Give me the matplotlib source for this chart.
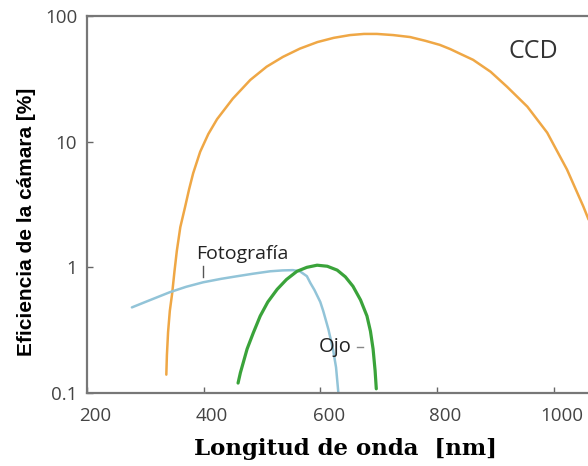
import numpy as np
import matplotlib.pyplot as plt
import matplotlib.transforms as mtransforms

# Datos (longitud de onda en nm, eficiencia en %)
ccd_nm = [336, 337, 339, 342, 346, 350, 354, 360, 368, 375, 382, 394, 408, 423,
          450, 480, 508, 536, 565, 595, 623, 651, 675, 697, 725, 754, 780, 805,
          823, 840, 862, 892, 920, 955, 989, 1023, 1051, 1060]
ccd_ef = [0.14, 0.2, 0.305, 0.45, 0.62, 0.93, 1.35, 2.09, 3.0, 4.17, 5.6, 8.3, 11.5, 15.1,
          22, 31, 39.5, 47.3, 55, 62, 67, 70.5, 72, 72, 70.5, 68, 63.5, 58.9,
          54.5, 50, 44.8, 36, 27.4, 19.0, 11.8, 6.0, 3.05, 2.4]

foto_nm = [277, 300, 342, 370, 399, 430, 457, 485, 514, 535, 553, 565, 577, 583,
           590, 600, 605, 614, 622, 627, 631]
foto_ef = [0.48, 0.53, 0.634, 0.70, 0.76, 0.81, 0.849, 0.89, 0.93, 0.945, 0.95, 0.93,
           0.85, 0.75, 0.66, 0.53, 0.45, 0.32, 0.22, 0.16, 0.1]

ojo_nm = [459, 463, 468, 474.5, 485, 497, 510, 526, 542, 560, 577, 594.5, 612, 629,
          643, 656, 669, 680, 686, 690.5, 694, 696]
ojo_ef = [0.12, 0.145, 0.175, 0.224, 0.30, 0.41, 0.53, 0.668, 0.80, 0.93, 1.0, 1.04,
          1.02, 0.95, 0.84, 0.707, 0.55, 0.41, 0.31, 0.224, 0.15, 0.108]

xticks = [200, 400, 600, 800, 1000]
yticks = [0.1, 1, 10, 100]
ytick_labels = ['0.1', '1', '10', '100']

fig = plt.figure(figsize=(5.88, 4.66), dpi=100)
ax = fig.add_axes([87 / 588, 73 / 466, 501 / 588, 377 / 466])

ax.plot(ccd_nm, ccd_ef, color='#EFA745', lw=1.8, solid_capstyle='round')
ax.plot(foto_nm, foto_ef, color='#92C4D8', lw=1.8, solid_capstyle='round')
ax.plot(ojo_nm, ojo_ef, color='#3AA33A', lw=2.3, solid_capstyle='round')

ax.set_yscale('log')
ax.set_xlim(200, 1059)
ax.set_ylim(0.1, 100)
ax.set_xticks(xticks)
ax.set_xticklabels([str(t) for t in xticks])
ax.set_yticks(yticks)
ax.set_yticklabels(ytick_labels)
ax.minorticks_off()

for s in ['left', 'bottom', 'top']:
    ax.spines[s].set_color('#777777')
    ax.spines[s].set_linewidth(1.6)
ax.spines['right'].set_visible(False)

ax.tick_params(direction='in', length=4, width=1, color='#666666',
               labelsize=13.5, labelcolor='#444444')
ax.tick_params(axis='x', pad=10)
ax.tick_params(axis='y', pad=7)
for lab in ax.get_xticklabels() + ax.get_yticklabels():
    lab.set_family('Open Sans')

# desplazar un poco las etiquetas del eje x
desp = mtransforms.ScaledTranslation(6 / 72, 0, fig.dpi_scale_trans)
for lab in ax.get_xticklabels():
    lab.set_transform(lab.get_transform() + desp)

ax.set_xlabel('Longitud de onda  [nm]', family='DejaVu Serif', weight='bold',
              fontsize=16.5, va='center')
ax.xaxis.set_label_coords(0.515, -0.149)
ax.set_ylabel('Eficiencia de la cámara [%]', family='Liberation Sans', weight='bold',
              fontsize=15, va='center')
ax.yaxis.set_label_coords(-0.12, 0.454)

# Etiquetas de las curvas
ax.text(466, 1.27, 'Fotografía', family='Open Sans', fontsize=14, color='#222222',
        ha='center', va='center')
ax.plot([399, 399], [0.84, 1.02], color='#555555', lw=1)
ax.text(625, 0.232, 'Ojo', family='Open Sans', fontsize=14.5, color='#222222',
        ha='center', va='center')
ax.plot([663, 673], [0.232, 0.232], color='#888888', lw=1)
ax.text(965, 51.8, 'CCD', family='Open Sans', fontsize=18, color='#333333',
        ha='center', va='center')

fig.savefig('out.png', dpi=100)
